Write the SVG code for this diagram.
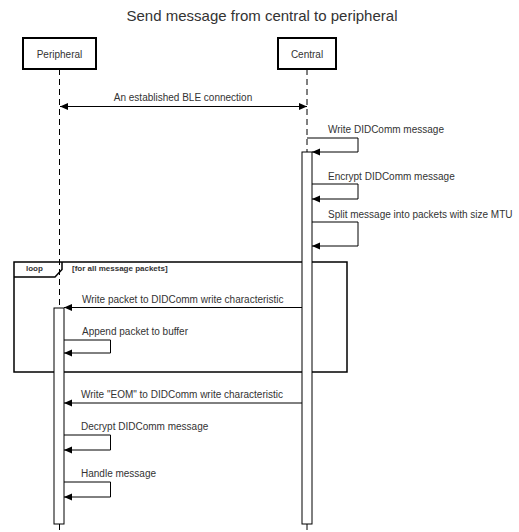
<svg xmlns="http://www.w3.org/2000/svg" width="519" height="532" viewBox="0 0 519 532">
  <style>
    text { font-family: "Liberation Sans", Arial, sans-serif; fill: #333; }
    .title { font-size: 15px; text-anchor: middle; }
    .lbl { font-size: 10px; }
    .actor { fill: #fff; stroke: #000; stroke-width: 2; }
    .life { stroke: #000; stroke-width: 1; stroke-dasharray: 6 4; fill: none; }
    .act { fill: #fff; stroke: #000; stroke-width: 1; }
    .msg { stroke: #000; stroke-width: 1; fill: none; marker-end: url(#arrow); }
    .frame { fill: none; stroke: #000; stroke-width: 1.5; }
    .frametxt { font-size: 8px; font-weight: bold; }
  </style>
  <defs>
    <marker id="arrow" markerUnits="userSpaceOnUse" markerWidth="9" markerHeight="8" refX="8" refY="3.5" orient="auto-start-reverse">
      <path d="M0,0 L8,3.5 L0,7 z" fill="#000"/>
    </marker>
  </defs>

  <rect width="519" height="532" fill="#fff"/>

  <text class="title" x="262" y="21">Send message from central to peripheral</text>

  <!-- loop fragment (drawn beneath the lifelines and activation bars) -->
  <g id="loop">
    <rect class="frame" x="14" y="262" width="333" height="110"/>
    <path class="frame" d="M14,277 L55,277 L62,269.5 L62,262"/>
    <text class="frametxt" x="26" y="271">loop</text>
    <text class="frametxt" x="72" y="271">[for all message packets]</text>
  </g>

  <!-- lifelines -->
  <g id="lifelines">
    <line class="life" x1="59.5" y1="69" x2="59.5" y2="308"/>
    <line class="life" x1="59.5" y1="524" x2="59.5" y2="532"/>
    <line class="life" x1="307" y1="69" x2="307" y2="152"/>
    <line class="life" x1="307" y1="524" x2="307" y2="532"/>
  </g>

  <g id="peripheral">
    <rect class="actor" x="23" y="38" width="73" height="31"/>
    <text class="lbl" x="59.5" y="57.5" text-anchor="middle">Peripheral</text>
  </g>
  <g id="central">
    <rect class="actor" x="278" y="38" width="58" height="31"/>
    <text class="lbl" x="307" y="57.5" text-anchor="middle">Central</text>
  </g>

  <!-- activation bars -->
  <g id="peripheral-activation">
    <rect class="act" x="54" y="308" width="10" height="216"/>
  </g>
  <g id="central-activation">
    <rect class="act" x="302" y="152" width="10" height="372"/>
  </g>

  <g id="connectors">
    <line class="msg" x1="60" y1="106.5" x2="307" y2="106.5" marker-start="url(#arrow)"/>
    <text class="lbl" x="183" y="101" text-anchor="middle">An established BLE connection</text>

    <path class="msg" d="M307,138 H358 V152 H312"/>
    <text class="lbl" x="328" y="133">Write DIDComm message</text>

    <path class="msg" d="M312,184 H358 V199 H312"/>
    <text class="lbl" x="328" y="180">Encrypt DIDComm message</text>

    <path class="msg" d="M312,222 H358 V246 H312"/>
    <text class="lbl" x="328" y="218">Split message into packets with size MTU</text>

    <line class="msg" x1="302" y1="307.5" x2="64" y2="307.5"/>
    <text class="lbl" x="82" y="303">Write packet to DIDComm write characteristic</text>

    <path class="msg" d="M64,340 H110.5 V353 H64"/>
    <text class="lbl" x="82" y="335">Append packet to buffer</text>

    <line class="msg" x1="302" y1="403" x2="64" y2="403"/>
    <text class="lbl" x="81" y="398">Write "EOM" to DIDComm write characteristic</text>

    <path class="msg" d="M64,435 H110.5 V450 H64"/>
    <text class="lbl" x="81" y="430">Decrypt DIDComm message</text>

    <path class="msg" d="M64,482 H110.5 V497 H64"/>
    <text class="lbl" x="81" y="477">Handle message</text>
  </g>
</svg>
